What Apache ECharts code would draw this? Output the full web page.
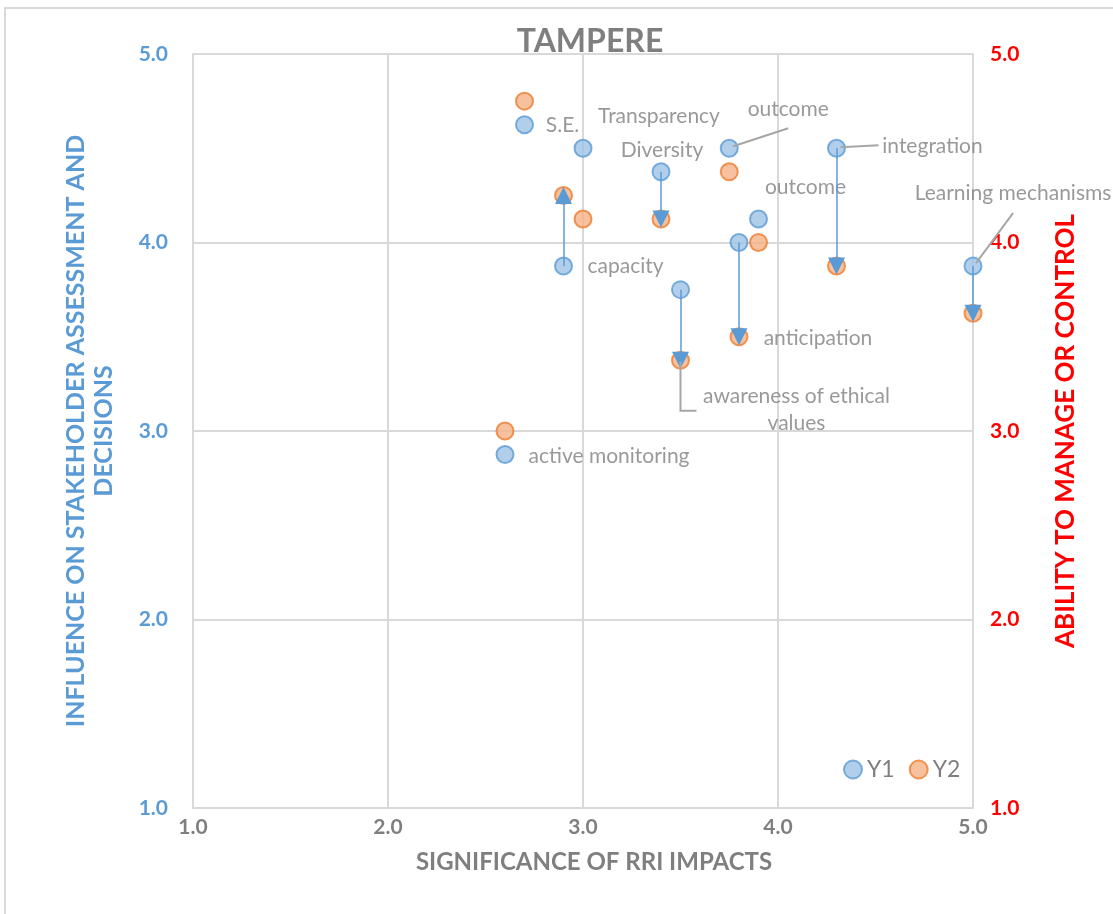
<!DOCTYPE html>
<html>
<head>
<meta charset="utf-8">
<script src="https://cdn.jsdelivr.net/npm/echarts@6/dist/echarts.min.js"></script>
<style>html,body{margin:0;padding:0;background:#fff}#main{width:1113px;height:914px}</style>
</head>
<body>
<div id="main"></div>
<script>
// data
var names = ['S.E.', 'Transparency', 'Diversity', 'outcome', 'integration', 'outcome',
    'anticipation', 'capacity', 'Learning mechanisms', 'awareness of ethical\nvalues', 'active monitoring'];
var significance = [2.7, 3.0, 3.4, 3.75, 4.3, 3.9, 3.8, 2.9, 5.0, 3.5, 2.6];
var y1 = [4.625, 4.5, 4.375, 4.5, 4.5, 4.125, 4.0, 3.875, 3.875, 3.75, 2.875];
var y2 = [4.75, 4.125, 4.125, 4.375, 3.875, 4.0, 3.5, 4.25, 3.625, 3.375, 3.0];
var arrowRows = [2, 4, 6, 7, 8, 9];

var myChart = echarts.init(document.getElementById('main'));
var font = 'Lato';
var grey = '#7f7f7f';

// label placement (pixels from the Y1 marker)
var labelOffsets = [[38, 1], [76, -32], [1, -22], [59, -39], [96, -2], [47, -32],
    [79, 96], [62, 0], [40, -73], [116, 120], [104, 2]];
var leaders = [
    { row: 3, pts: [[4, -2], [59, -20]] },
    { row: 4, pts: [[4, -1], [42, -3]] },
    { row: 8, pts: [[3, -3], [40, -53]] },
    { row: 9, pts: [[0, 72], [0, 121], [16, 121]] }
];

var y1Data = significance.map(function (x, i) {
    return {
        value: [x, y1[i]],
        label: {
            show: true, position: 'inside', offset: labelOffsets[i],
            formatter: names[i], color: grey, fontFamily: font, fontSize: 21,
            lineHeight: 27, align: 'center'
        }
    };
});
var y2Data = significance.map(function (x, i) { return [x, y2[i]]; });
var arrowData = arrowRows.map(function (i) {
    return [{ coord: [significance[i], y1[i]] }, { coord: [significance[i], y2[i]] }];
});

function fmt(v) { return v.toFixed(1); }

option = {
    animation: false,
    title: {
        text: 'TAMPERE', left: 585, textAlign: 'center', top: 21,
        textStyle: { color: grey, fontFamily: font, fontSize: 32, fontWeight: 'bold' }
    },
    legend: {
        left: 838, top: 753, itemGap: 14, itemWidth: 18, itemHeight: 18,
        icon: 'circle',
        textStyle: { color: grey, fontFamily: font, fontSize: 23 },
        data: ['Y1', 'Y2']
    },
    grid: { left: 193, right: 140, top: 54, bottom: 106 },
    xAxis: {
        type: 'value', min: 1, max: 5, interval: 1,
        name: 'SIGNIFICANCE OF RRI IMPACTS', nameLocation: 'middle', nameGap: 42,
        nameTextStyle: { color: grey, fontFamily: font, fontSize: 24, fontWeight: 'bold', padding: [0, 0, 0, 22] },
        axisLine: { lineStyle: { color: '#d9d9d9', width: 2 } },
        axisTick: { show: false },
        axisLabel: { formatter: fmt, color: grey, fontFamily: font, fontSize: 21, fontWeight: 'bold', margin: 9 },
        splitLine: { lineStyle: { color: '#d9d9d9', width: 2 } }
    },
    yAxis: [{
        type: 'value', min: 1, max: 5, interval: 1,
        name: 'INFLUENCE ON STAKEHOLDER ASSESSMENT AND\nDECISIONS',
        nameLocation: 'middle', nameGap: 75, nameRotate: 90,
        nameTextStyle: { color: '#5b9bd5', fontFamily: font, fontSize: 25, fontWeight: 'bold', lineHeight: 28 },
        axisLine: { show: true, lineStyle: { color: '#d9d9d9', width: 2 } },
        axisTick: { show: false },
        axisLabel: { formatter: fmt, color: '#5b9bd5', fontFamily: font, fontSize: 21, fontWeight: 'bold', margin: 25 },
        splitLine: { lineStyle: { color: '#d9d9d9', width: 2 } }
    }, {
        type: 'value', min: 1, max: 5, interval: 1, position: 'right',
        name: 'ABILITY TO MANAGE OR CONTROL',
        nameLocation: 'middle', nameGap: 80, nameRotate: 90,
        nameTextStyle: { color: '#ff0000', fontFamily: font, fontSize: 26, fontWeight: 'bold' },
        axisLine: { show: true, lineStyle: { color: '#d9d9d9', width: 2 } },
        axisTick: { show: false },
        axisLabel: { formatter: fmt, color: '#ff0000', fontFamily: font, fontSize: 21, fontWeight: 'bold', margin: 17 },
        splitLine: { show: false }
    }],
    series: [{
        name: 'Y1', type: 'scatter', symbolSize: 17, z: 3,
        itemStyle: { color: '#9dc3e6', borderColor: '#5b9bd5', borderWidth: 2 },
        data: y1Data,
        markLine: {
            silent: true, symbol: ['none', 'triangle'], symbolSize: 17,
            lineStyle: { color: '#5b9bd5', width: 1.5, type: 'solid' },
            label: { show: false }, emphasis: { disabled: true },
            data: arrowData, z: 5
        }
    }, {
        name: 'Y2', type: 'scatter', yAxisIndex: 1, symbolSize: 17, z: 2,
        itemStyle: { color: '#f4b183', borderColor: '#ed7d31', borderWidth: 2 },
        data: y2Data
    }]
};

if (option && typeof option === "object") {
    myChart.setOption(option, true);
}

// leader lines and outer frame
var graphics = [{
    type: 'rect', shape: { x: 5, y: 8, width: 1130, height: 930 },
    style: { fill: 'none', stroke: '#d9d9d9', lineWidth: 2 }, silent: true
}];
leaders.forEach(function (l) {
    var p = myChart.convertToPixel({ gridIndex: 0 }, [significance[l.row], y1[l.row]]);
    graphics.push({
        type: 'polyline', z: 10, silent: true,
        shape: { points: l.pts.map(function (d) { return [p[0] + d[0], p[1] + d[1]]; }) },
        style: { stroke: '#a6a6a6', lineWidth: 2, fill: 'none' }
    });
});
myChart.setOption({ graphic: graphics });
</script>
</body>
</html>
